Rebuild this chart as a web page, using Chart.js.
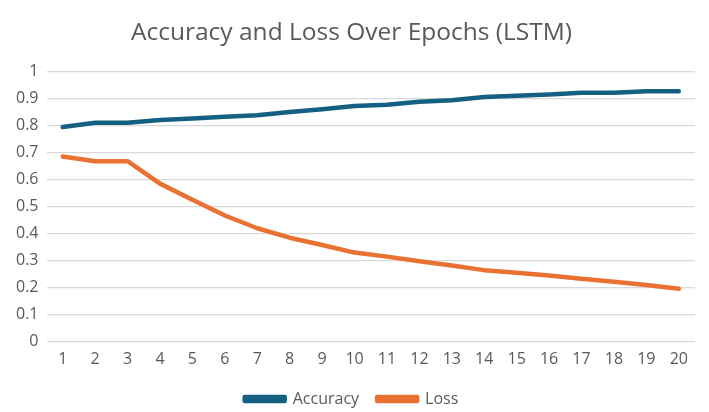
<!DOCTYPE html>
<html>
<head>
<meta charset="utf-8">
<script src="https://cdn.jsdelivr.net/npm/chart.js@4/dist/chart.umd.min.js"></script>
<style>
  html, body { margin: 0; padding: 0; background: #fff; }
  #wrap { width: 709px; height: 412px; }
</style>
</head>
<body>
<div id="wrap"><canvas id="lstmChart"></canvas></div>
<script>
const epochs = ['1','2','3','4','5','6','7','8','9','10','11','12','13','14','15','16','17','18','19','20']
const accuracy = [0.794, 0.81, 0.81, 0.82, 0.826, 0.832, 0.838, 0.85, 0.86, 0.872, 0.877, 0.888, 0.893, 0.905, 0.91, 0.915, 0.921, 0.921, 0.927, 0.927]
const loss = [0.685, 0.668, 0.668, 0.585, 0.525, 0.467, 0.42, 0.385, 0.358, 0.33, 0.315, 0.298, 0.282, 0.265, 0.255, 0.245, 0.233, 0.222, 0.21, 0.196]

const textColor = '#595959'
const fontFamily = "'Open Sans', 'Liberation Sans', sans-serif"

const context = document.getElementById('lstmChart').getContext('2d')

new Chart(context, {
    type: 'line',
    data: {
        labels: epochs,
        datasets: [{
            label: 'Accuracy',
            data: accuracy,
            borderColor: '#156082',
            backgroundColor: '#156082',
            borderWidth: 4.5,
            pointRadius: 0,
            tension: 0,
            borderCapStyle: 'round',
            borderJoinStyle: 'round'
        }, {
            label: 'Loss',
            data: loss,
            borderColor: '#E97132',
            backgroundColor: '#E97132',
            borderWidth: 4.5,
            pointRadius: 0,
            tension: 0,
            borderCapStyle: 'round',
            borderJoinStyle: 'round'
        }]
    },
    options: {
        responsive: true,
        maintainAspectRatio: false,
        animation: false,
        layout: {
            padding: { left: 8, right: 14, top: 8, bottom: -5 }
        },
        plugins: {
            title: {
                display: true,
                text: 'Accuracy and Loss Over Epochs (LSTM)',
                color: textColor,
                font: { family: fontFamily, size: 24.5, weight: 'normal' },
                padding: { top: 10, bottom: 24 }
            },
            legend: {
                position: 'bottom',
                labels: {
                    color: textColor,
                    font: { family: fontFamily, size: 16 },
                    boxWidth: 40,
                    boxHeight: 4,
                    padding: 18
                }
            },
            tooltip: { enabled: false }
        },
        scales: {
            x: {
                offset: true,
                grid: { display: false },
                border: { display: false },
                afterFit: axis => { axis.height += 4 },
                ticks: {
                    color: textColor,
                    padding: 0,
                    font: { family: fontFamily, size: 16 },
                    maxRotation: 0,
                    autoSkip: false
                }
            },
            y: {
                min: 0,
                max: 1,
                grid: { color: '#d9d9d9', lineWidth: 1.2, drawTicks: false },
                border: { display: false },
                ticks: {
                    stepSize: 0.1,
                    color: textColor,
                    padding: 8,
                    font: { family: fontFamily, size: 16 },
                    callback: v => String(Math.round(v * 10) / 10)
                }
            }
        }
    }
});
</script>
</body>
</html>
